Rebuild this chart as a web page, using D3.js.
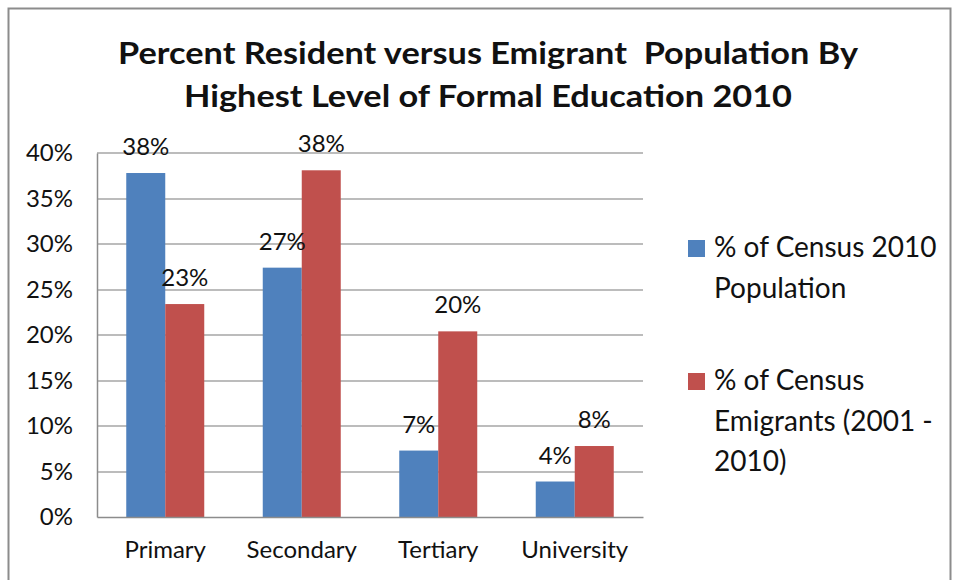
<!DOCTYPE html>
<html>
<head>
<meta charset="utf-8">
<script src="https://cdn.jsdelivr.net/npm/d3@7"></script>
<style>
  html, body { margin: 0; padding: 0; background: #fff; }
  svg { display: block; }
  text { font-family: Lato, "Open Sans", sans-serif; fill: #111; }
</style>
</head>
<body>
<svg id="chart" width="958" height="580"></svg>
<script>
// Education levels and the share of each population at that level
const categories = ["Primary", "Secondary", "Tertiary", "University"];
const seriesNames = ["% of Census 2010 Population", "% of Census Emigrants (2001 - 2010)"];
const censusPopulation = [0.378, 0.274, 0.073, 0.039];
const censusEmigrants = [0.234, 0.381, 0.204, 0.078];
const yTicks = [0, 0.05, 0.10, 0.15, 0.20, 0.25, 0.30, 0.35, 0.40];
const titleLines = ["Percent Resident versus Emigrant  Population By", "Highest Level of Formal Education 2010"];
const legendLines = [["% of Census 2010", "Population"], ["% of Census", "Emigrants (2001 -", "2010)"]];

const colors = ["#4F81BD", "#C0504D"];
const svg = d3.select("#chart");

// chart frame
svg.append("rect")
  .attr("x", 8.5).attr("y", 8.5)
  .attr("width", 942).attr("height", 600)
  .attr("fill", "#fff").attr("stroke", "#8c8c8c").attr("stroke-width", 2);

// title, each line stretched to its set width
const titleWidths = [740, 608];
svg.append("g").selectAll("text").data(titleLines).join("text")
  .attr("x", 488).attr("y", (d, i) => 64 + i * 43)
  .attr("text-anchor", "middle")
  .style("white-space", "pre")
  .attr("font-size", 30).attr("font-weight", "bold")
  .attr("textLength", (d, i) => titleWidths[i])
  .attr("lengthAdjust", "spacingAndGlyphs")
  .attr("fill", "#000")
  .text(d => d);

const plot = { left: 97, right: 643, top: 153, bottom: 517 };

const x0 = d3.scaleBand().domain(categories)
  .range([plot.left, plot.right]).paddingInner(0.4286).paddingOuter(0.2143);
const x1 = d3.scaleBand().domain([0, 1]).range([0, x0.bandwidth()]);
const y = d3.scaleLinear().domain([0, 0.40]).range([plot.bottom, plot.top]);

// horizontal gridlines
svg.append("g").selectAll("line").data(yTicks.slice(1)).join("line")
  .attr("x1", plot.left).attr("x2", plot.right)
  .attr("y1", d => Math.round(y(d))).attr("y2", d => Math.round(y(d)))
  .attr("stroke", "#a6a6a6").attr("stroke-width", 1.5);

// y axis
const yAxis = d3.axisLeft(y).tickValues(yTicks).tickFormat(d3.format(".0%")).tickSize(0).tickPadding(24);
const gy = svg.append("g").attr("transform", `translate(${plot.left},0)`).call(yAxis);
gy.select(".domain").attr("stroke", "#8c8c8c").attr("stroke-width", 1.5);
gy.selectAll("text").attr("font-size", 24).attr("font-family", "Lato, sans-serif").attr("fill", "#111");

// bars
const series = [censusPopulation, censusEmigrants];
const groups = svg.append("g").selectAll("g").data(categories).join("g")
  .attr("transform", d => `translate(${x0(d)},0)`);

groups.selectAll("rect")
  .data((c, i) => series.map((s, k) => ({ k, v: s[i] })))
  .join("rect")
  .attr("x", d => x1(d.k)).attr("width", x1.bandwidth())
  .attr("y", d => y(d.v)).attr("height", d => y(0) - y(d.v))
  .attr("fill", d => colors[d.k]);

// value labels
groups.selectAll("text.val")
  .data((c, i) => series.map((s, k) => ({ k, v: s[i] })))
  .join("text").attr("class", "val")
  .attr("x", d => x1(d.k) + x1.bandwidth() / 2)
  .attr("y", d => y(d.v) - 18)
  .attr("text-anchor", "middle")
  .attr("font-size", 24)
  .text(d => d3.format(".0%")(d.v));

// x axis
const xAxis = d3.axisBottom(x0).tickSize(0).tickPadding(24);
const gx = svg.append("g").attr("transform", `translate(0,${plot.bottom})`).call(xAxis);
gx.select(".domain").attr("stroke", "#8c8c8c").attr("stroke-width", 1.5);
gx.selectAll("text").attr("font-size", 24).attr("font-family", "Lato, sans-serif").attr("fill", "#111");

// legend
const legendTop = [240, 373];
const legend = svg.append("g").selectAll("g").data(seriesNames).join("g");
legend.append("rect")
  .attr("x", 688).attr("y", (d, i) => legendTop[i])
  .attr("width", 17).attr("height", 17)
  .attr("fill", (d, i) => colors[i]);
legend.each(function (d, i) {
  d3.select(this).selectAll("text").data(legendLines[i]).join("text")
    .attr("x", 714).attr("y", (t, j) => legendTop[i] + 17 + j * 40.5)
    .attr("font-size", 28)
    .text(t => t);
});
</script>
</body>
</html>
